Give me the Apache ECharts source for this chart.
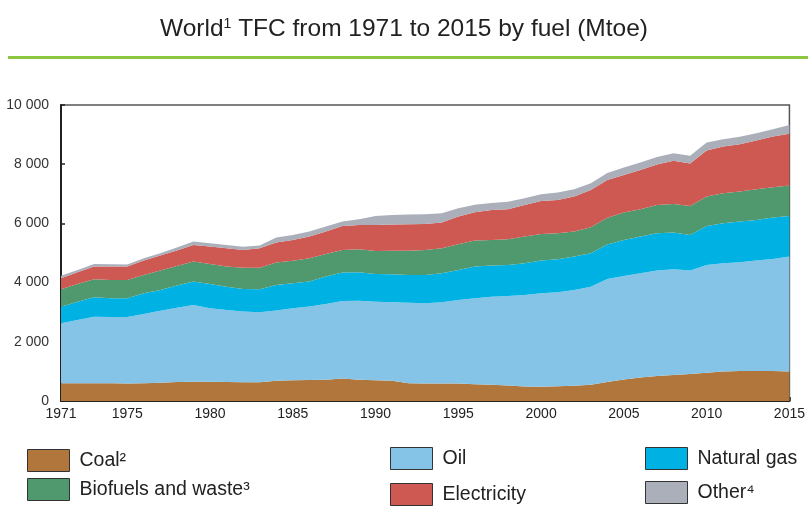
<!DOCTYPE html>
<html>
<head>
<meta charset="utf-8">
<script src="https://cdn.jsdelivr.net/npm/echarts@6/dist/echarts.min.js"></script>
<style>
  html, body { margin: 0; padding: 0; background: #fff; }
  #chart { width: 808px; height: 508px; }
</style>
</head>
<body>
<div id="chart"></div>
<script>
const years = []
for (let y = 1971; y <= 2015; y++) years.push(String(y))

// Mtoe
const coal = [600, 600, 600, 600, 595, 600, 615, 640, 650, 650,
  640, 630, 630, 680, 700, 710, 720, 760, 720, 700,
  680, 600, 595, 595, 590, 565, 545, 520, 490, 485,
  500, 515, 545, 640, 730, 790, 845, 880, 910, 955,
  1000, 1010, 1015, 1015, 1000]
const oil = [2026, 2138, 2250, 2240, 2245, 2340, 2437, 2514, 2595, 2483,
  2436, 2390, 2368, 2380, 2433, 2479, 2559, 2620, 2671, 2657,
  2655, 2720, 2707, 2741, 2823, 2905, 2981, 3029, 3093, 3154,
  3173, 3237, 3319, 3480, 3495, 3525, 3560, 3570, 3495, 3642,
  3653, 3677, 3728, 3784, 3878]
const gas = [562, 618, 654, 630, 630, 699, 700, 744, 789, 822,
  787, 766, 777, 860, 845, 845, 923, 957, 957, 936,
  945, 939, 957, 979, 1015, 1070, 1048, 1048, 1070, 1104,
  1115, 1126, 1127, 1170, 1217, 1240, 1262, 1240, 1206, 1318,
  1352, 1374, 1375, 1398, 1375]
const biofuels = [587, 599, 608, 620, 620, 620, 653, 665, 675, 676,
  677, 714, 725, 755, 764, 788, 767, 767, 779, 777,
  800, 821, 845, 845, 867, 880, 868, 868, 901, 902,
  879, 845, 879, 900, 924, 923, 958, 969, 980, 991,
  1015, 1015, 1036, 1025, 1024]
const electricity = [372, 395, 428, 450, 450, 484, 507, 519, 564, 585,
  620, 604, 660, 677, 700, 732, 754, 811, 822, 879,
  880, 890, 879, 868, 935, 957, 1014, 1013, 1071, 1115,
  1127, 1183, 1262, 1280, 1273, 1330, 1365, 1454, 1433, 1554,
  1576, 1600, 1646, 1713, 1748]
const other = [88, 78, 90, 80, 70, 79, 79, 100, 112, 114,
  110, 111, 95, 170, 169, 169, 169, 150, 191, 300,
  327, 330, 327, 315, 282, 250, 230, 255, 228, 225,
  248, 248, 228, 230, 251, 250, 257, 259, 259, 272,
  251, 251, 248, 247, 303]

const names = ['Coal²', 'Oil', 'Natural gas', 'Biofuels and waste³', 'Electricity', 'Other⁴']
const colors = ['#b0763b', '#85c4e6', '#00b2e3', '#50986e', '#ce5852', '#aaafba']
const values = [coal, oil, gas, biofuels, electricity, other]

const chart = echarts.init(document.getElementById('chart'), null, { renderer: 'canvas' })

const font = 'Liberation Sans Narrow, Liberation Sans, Arial'
const legendBase = {
  orient: 'vertical',
  icon: 'rect',
  itemWidth: 42,
  itemHeight: 22,
  selectedMode: false,
  textStyle: { fontFamily: font, fontSize: 19.5, color: '#222', padding: [0, 0, 0, 5] },
  itemStyle: { borderColor: '#333', borderWidth: 1 },
  padding: 0
}

const option = {
  animation: false,
  color: colors,
  title: {
    text: 'World{sup|1} TFC from 1971 to 2015 by fuel (Mtoe)',
    left: 'center',
    top: 12,
    textStyle: {
      fontFamily: font,
      fontSize: 24.5,
      fontWeight: 'normal',
      color: '#222',
      rich: {
        sup: {
          fontFamily: font,
          fontSize: 14,
          color: '#222',
          verticalAlign: 'top',
          padding: [0, 0, 8, 0]
        }
      }
    }
  },
  graphic: [
    {
      type: 'rect',
      shape: { x: 8, y: 56, width: 800, height: 3 },
      style: { fill: '#8dc63f' }
    }
  ],
  legend: [
    Object.assign({ data: ['Coal²', 'Biofuels and waste³'], left: 27, top: 449, itemGap: 6 }, legendBase),
    Object.assign({ data: ['Oil', 'Electricity'], left: 390, top: 447, itemGap: 13 }, legendBase),
    Object.assign({ data: ['Natural gas', 'Other⁴'], left: 645, top: 447, itemGap: 11 }, legendBase)
  ],
  grid: {
    left: 61,
    right: 13,
    top: 105,
    bottom: 107,
    show: true,
    borderColor: '#555',
    borderWidth: 1.5
  },
  xAxis: {
    type: 'category',
    data: years,
    boundaryGap: false,
    axisLine: { lineStyle: { color: '#222', width: 2 } },
    axisTick: {
      inside: true,
      length: 4,
      interval: 0,
      lineStyle: { color: '#222', width: 1.5 }
    },
    axisLabel: {
      interval: (i, v) => i === 0 || Number(v) % 5 === 0,
      fontFamily: font,
      fontSize: 14,
      color: '#222',
      margin: 6,
      showMaxLabel: true
    },
    splitLine: { show: false }
  },
  yAxis: {
    type: 'value',
    min: 0,
    max: 10000,
    interval: 2000,
    axisLine: { show: true, lineStyle: { color: '#222', width: 2 } },
    axisTick: { show: true, inside: true, length: 4, lineStyle: { color: '#222', width: 1.5 } },
    axisLabel: {
      formatter: v => String(v).replace(/\B(?=(\d{3})+(?!\d))/g, ' '),
      fontFamily: font,
      fontSize: 14,
      color: '#333',
      margin: 12
    },
    splitLine: { show: false }
  },
  series: names.map((name, i) => ({
    name: name,
    type: 'line',
    stack: 'tfc',
    data: values[i],
    symbol: 'none',
    lineStyle: { width: 0 },
    areaStyle: { color: colors[i], opacity: 1 },
    itemStyle: { color: colors[i] }
  }))
}

chart.setOption(option)
</script>
</body>
</html>
